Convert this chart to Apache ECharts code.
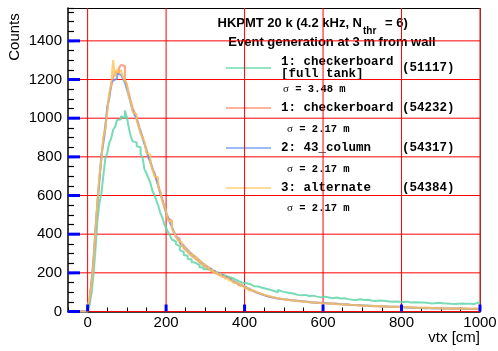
<!DOCTYPE html>
<html><head><meta charset="utf-8">
<script src="https://cdn.jsdelivr.net/npm/echarts@6/dist/echarts.min.js"></script>
<style>html,body{margin:0;padding:0;background:#fff}#c{width:498px;height:351px}</style>
</head><body><div id="c"></div>
<script>
const binLow = -50, binWidth = 5;
const xTicks = [0, 200, 400, 600, 800, 1000];
const yTicks = [0, 200, 400, 600, 800, 1000, 1200, 1400];
const zeros = [0,0,0,0,0,0,0,0,0,0];
const greenCounts = zeros.concat([
8, 35, 95, 190, 320, 470, 560, 610, 700, 790,
820, 870, 895, 940, 955, 990, 995, 1010, 1000, 1040,
1005, 950, 905, 880, 875, 855, 850, 815, 795, 735,
715, 690, 665, 625, 605, 575, 548, 512, 488, 455,
432, 410, 392, 372, 362, 348, 338, 318, 308, 292,
288, 272, 270, 256, 252, 242, 240, 228, 229, 218,
220, 211, 212, 203, 206, 197, 201, 190, 191, 181,
183, 173, 176, 166, 168, 158, 157, 152, 149, 145,
146, 137, 141, 133, 131, 128, 129, 119, 123, 116,
118, 110, 113, 107, 106, 103, 100, 112, 104, 97,
99, 94, 96, 88, 93, 89, 86, 87, 84, 81,
86, 79, 80, 79, 82, 75, 77, 76, 73, 74,
77, 70, 72, 71, 69, 70, 72, 66, 67, 65,
69, 62, 64, 65, 61, 63, 60, 61, 63, 58,
59, 57, 61, 55, 56, 57, 54, 53, 57, 52,
55, 51, 53, 54, 50, 50, 52, 48, 51, 47,
49, 48, 51, 46, 47, 45, 48, 44, 46, 45,
47, 43, 45, 44, 42, 44, 43, 41, 45, 42,
43, 40, 42, 41, 40, 42, 39, 41, 40, 38,
41, 39, 40, 38, 40, 37, 39, 42, 45, 47]);
const orangeCounts = zeros.concat([
25, 70, 160, 270, 410, 570, 690, 790, 890, 960,
1040, 1120, 1160, 1210, 1240, 1230, 1260, 1275, 1270, 1200,
1170, 1130, 1090, 1050, 1030, 995, 970, 925, 905, 870,
840, 795, 780, 735, 720, 680, 655, 610, 585, 540,
515, 480, 470, 430, 415, 385, 378, 355, 345, 325,
322, 305, 302, 285, 286, 270, 268, 252, 250, 238,
236, 222, 221, 208, 209, 198, 199, 188, 190, 178,
178, 168, 167, 157, 153, 147, 143, 136, 133, 127,
124, 118, 113, 108, 104, 98, 95, 92, 86, 84,
80, 78, 74, 73, 70, 69, 66, 66, 62, 63,
60, 61, 57, 58, 55, 56, 53, 54, 51, 52,
49, 50, 48, 47, 48, 45, 46, 45, 43, 45,
42, 43, 41, 42, 39, 41, 38, 39, 38, 36,
37, 35, 36, 34, 35, 33, 34, 31, 33, 30,
31, 29, 30, 28, 29, 27, 29, 26, 27, 26,
25, 26, 24, 25, 23, 25, 22, 24, 22, 23,
21, 22, 20, 22, 19, 21, 20, 18, 20, 19,
18, 19, 17, 19, 17, 18, 16, 18, 16, 17,
16, 15, 17, 15, 16, 14, 16, 15, 13, 15,
14, 15, 13, 14, 12, 14, 13, 15, 13, 12]);
const blueCounts = zeros.concat([
20, 55, 145, 265, 430, 555, 670, 810, 870, 945,
1060, 1100, 1180, 1195, 1205, 1230, 1225, 1220, 1205, 1185,
1150, 1115, 1075, 1040, 1015, 1000, 955, 935, 895, 865,
830, 800, 770, 745, 710, 690, 648, 618, 578, 550,
508, 488, 458, 438, 408, 395, 372, 360, 340, 332,
316, 310, 296, 292, 280, 276, 262, 258, 246, 241,
230, 226, 216, 213, 203, 202, 193, 192, 183, 181,
173, 171, 162, 160, 151, 149, 141, 139, 131, 128,
121, 119, 111, 109, 101, 100, 93, 92, 85, 85,
79, 79, 73, 74, 69, 70, 64, 66, 61, 63,
58, 61, 56, 58, 54, 57, 52, 54, 50, 52,
48, 50, 46, 48, 46, 47, 44, 45, 42, 44,
41, 43, 40, 41, 38, 40, 37, 39, 36, 38,
35, 37, 34, 35, 33, 34, 32, 33, 31, 32,
30, 31, 29, 30, 28, 29, 27, 28, 26, 27,
25, 26, 24, 25, 24, 25, 23, 24, 22, 23,
22, 21, 21, 20, 21, 19, 20, 19, 19, 18,
19, 17, 18, 17, 18, 16, 17, 17, 16, 16,
15, 16, 15, 16, 14, 16, 14, 15, 14, 15,
13, 14, 14, 13, 14, 13, 12, 13, 12, 13]);
const yellowCounts = zeros.concat([
18, 65, 140, 250, 415, 565, 700, 785, 900, 940,
1030, 1125, 1175, 1300, 1215, 1255, 1235, 1250, 1215, 1195,
1180, 1110, 1085, 1030, 1020, 985, 960, 920, 895, 880,
820, 810, 765, 740, 700, 695, 640, 625, 572, 545,
520, 472, 462, 425, 412, 390, 368, 358, 338, 330,
314, 308, 292, 294, 276, 278, 260, 260, 242, 244,
228, 228, 214, 215, 201, 204, 190, 194, 180, 183,
170, 172, 160, 161, 150, 150, 140, 141, 130, 131,
120, 121, 110, 111, 101, 102, 93, 94, 86, 87,
80, 81, 74, 76, 69, 71, 65, 67, 61, 64,
58, 60, 55, 58, 53, 56, 51, 53, 49, 51,
47, 49, 46, 48, 44, 46, 43, 45, 42, 43,
40, 42, 39, 41, 38, 39, 37, 38, 35, 37,
34, 36, 33, 35, 32, 33, 31, 32, 30, 31,
29, 30, 28, 30, 27, 28, 26, 28, 25, 27,
24, 26, 23, 25, 23, 24, 22, 23, 21, 23,
20, 22, 20, 21, 19, 21, 19, 20, 18, 19,
18, 19, 17, 18, 17, 18, 16, 17, 16, 17,
15, 16, 15, 16, 14, 15, 14, 16, 14, 15,
13, 15, 13, 14, 13, 14, 12, 14, 13, 13]);

const seriesLabels = ['1: checkerboard\n[full tank]', '1: checkerboard', '2: 43_column', '3: alternate'];
const seriesEntries = ['51117', '54232', '54317', '54384'];
const seriesSigma = ['3.48', '2.17', '2.17', '2.17'];
const seriesColors = ['rgba(95,214,168,0.85)', 'rgba(255,140,105,0.8)', 'rgba(100,145,240,0.8)', 'rgba(255,195,85,0.8)'];
const titleMain = 'HKPMT 20 k (4.2 kHz, N';
const titleSub = 'thr';
const titleEnd = '= 6)';
const titleLine2 = 'Event generation at 3 m from wall';
const xTitle = 'vtx [cm]';
const yTitle = 'Counts';

function toSteps(counts) {
  const d = counts.map((v, i) => [binLow + i * binWidth, v]);
  d.push([binLow + counts.length * binWidth, counts[counts.length - 1]]);
  return d;
}
const allCounts = [greenCounts, orangeCounts, blueCounts, yellowCounts];
const sans = 'Liberation Sans, Arial, Helvetica, sans-serif';
const mono = 'Liberation Mono, Courier New, monospace';
const X_MIN = -50, X_MAX = 1000, Y_MIN = 0, Y_MAX = 1570;

const chart = echarts.init(document.getElementById('c'), null, {renderer: 'canvas'});
const gridBox = {left: 68, right: 18, top: 8, bottom: 39.5, containLabel: false, outerBoundsMode: 'none'};
const plotW = chart.getWidth() - gridBox.left - gridBox.right;
const plotH = chart.getHeight() - gridBox.top - gridBox.bottom;
const xPerPx = (X_MAX - X_MIN) / plotW, yPerPx = (Y_MAX - Y_MIN) / plotH;

// DIAGNOSTIC colours to verify the helper lines are drawn
const GRIDC = '#ff0000';
function seg(data, color, width, type, z) {
  return {type:'line', xAxisIndex:0, yAxisIndex:0, data:data, symbol:'none', showSymbol:false,
          silent:true, clip:false, z:z, lineStyle:{color:color, width:width, type:type}};
}
const helperSeries = [];
xTicks.forEach(v => {
  helperSeries.push(seg([[v, Y_MIN], [v, Y_MAX]], GRIDC, 1, 'solid', 1));
  helperSeries.push(seg([[v, Y_MIN], [v, Y_MIN + 7 * yPerPx]], '#0000ff', 3, 'solid', 10));
});
yTicks.forEach(v => {
  helperSeries.push(seg([[X_MIN, v], [X_MAX, v]], GRIDC, 1, 'solid', 1));
  helperSeries.push(seg([[X_MIN, v], [X_MIN + 12 * xPerPx, v]], '#0000ff', 3, 'solid', 10));
});

const graphics = [];
graphics.push({type:'text', x:362, y:23, style:{text:titleMain, font:'bold 13px ' + sans, fill:'#000', textAlign:'right', textVerticalAlign:'middle'}});
graphics.push({type:'text', x:363, y:31, style:{text:titleSub, font:'bold 10px ' + sans, fill:'#000', textAlign:'left', textVerticalAlign:'middle'}});
graphics.push({type:'text', x:385, y:23, style:{text:titleEnd, font:'bold 13px ' + sans, fill:'#000', textAlign:'left', textVerticalAlign:'middle'}});
graphics.push({type:'text', x:332, y:42, style:{text:titleLine2, font:'bold 13px ' + sans, fill:'#000', textAlign:'center', textVerticalAlign:'middle'}});
graphics.push({type:'text', x:480, y:338, style:{text:xTitle, font:'15px ' + sans, fill:'#000', textAlign:'right', textVerticalAlign:'middle'}});
graphics.push({type:'text', x:15, y:37, rotation:Math.PI/2, style:{text:yTitle, font:'15px ' + sans, fill:'#000', textAlign:'center', textVerticalAlign:'middle'}});
const entryY = [68, 108, 148, 188];
const sigmaX = [283, 287, 287, 287];
const sigmaY = [89, 129, 169, 208];
const lineColors = ['#6fdcb2', '#ff9a7a', '#7ea4f2', '#ffcf78'];
for (let k = 0; k < 4; k++) {
  const y = entryY[k];
  graphics.push({type:'line', shape:{x1:226, y1:y, x2:271, y2:y}, style:{stroke:lineColors[k], lineWidth:1.5}});
  const parts = seriesLabels[k].split('\n');
  if (parts.length === 2) {
    graphics.push({type:'text', x:281, y:y-6, style:{text:parts[0], font:'bold 12.5px ' + mono, fill:'#000', textAlign:'left', textVerticalAlign:'middle'}});
    graphics.push({type:'text', x:281, y:y+6, style:{text:parts[1], font:'bold 12.5px ' + mono, fill:'#000', textAlign:'left', textVerticalAlign:'middle'}});
  } else {
    graphics.push({type:'text', x:281, y:y, style:{text:parts[0], font:'bold 12.5px ' + mono, fill:'#000', textAlign:'left', textVerticalAlign:'middle'}});
  }
  graphics.push({type:'text', x:402, y:y, style:{text:'(' + seriesEntries[k] + ')', font:'bold 12.5px ' + mono, fill:'#000', textAlign:'left', textVerticalAlign:'middle'}});
  graphics.push({type:'text', x:sigmaX[k], y:sigmaY[k], style:{
    text:'{s|σ}{m| = ' + seriesSigma[k] + ' m}', textAlign:'left', textVerticalAlign:'middle',
    rich:{s:{fontFamily:'Liberation Serif, serif', fontSize:11, fill:'#000'}, m:{fontFamily:mono, fontWeight:'bold', fontSize:10.5, fill:'#000'}}}});
}

const option = {
  animation: false,
  backgroundColor: '#fff',
  grid: [gridBox, gridBox],
  xAxis: [
    {gridIndex:0, type:'value', min:X_MIN, max:X_MAX, interval:50, position:'bottom',
     axisLine:{show:true, onZero:false, lineStyle:{color:'#000', width:1.5}},
     axisTick:{show:true, inside:true, length:4, lineStyle:{color:'#000', width:1}},
     axisLabel:{margin:4, fontSize:15, color:'#000', fontFamily:sans,
       formatter: v => (xTicks.indexOf(v) >= 0 ? String(v) : '')},
     splitLine:{show:false}},
    {gridIndex:1, type:'value', min:X_MIN, max:X_MAX, position:'top',
     axisLine:{show:true, onZero:false, lineStyle:{color:'#000', width:1}},
     axisTick:{show:false}, axisLabel:{show:false}, splitLine:{show:false}}
  ],
  yAxis: [
    {gridIndex:0, type:'value', min:Y_MIN, max:Y_MAX, interval:50, position:'left',
     axisLine:{show:true, onZero:false, lineStyle:{color:'#000', width:1.5}},
     axisTick:{show:true, inside:true, length:6, lineStyle:{color:'#000', width:1.2}},
     axisLabel:{margin:6, fontSize:15, color:'#000', fontFamily:sans,
       formatter: v => (yTicks.indexOf(v) >= 0 ? String(v) : '')},
     splitLine:{show:false}},
    {gridIndex:1, type:'value', min:Y_MIN, max:Y_MAX, position:'right',
     axisLine:{show:true, onZero:false, lineStyle:{color:'#444', width:1, type:[1,1]}},
     axisTick:{show:false}, axisLabel:{show:false}, splitLine:{show:false}}
  ],
  series: helperSeries.concat(allCounts.map((c, k) => ({
    type:'line', step:'end', xAxisIndex:0, yAxisIndex:0, symbol:'none', showSymbol:false,
    data: toSteps(c), clip:true,
    lineStyle:{color:seriesColors[k], width:2}, z: 2 + k
  }))),
  graphic: graphics
};
chart.setOption(option);
</script>
</body></html>
